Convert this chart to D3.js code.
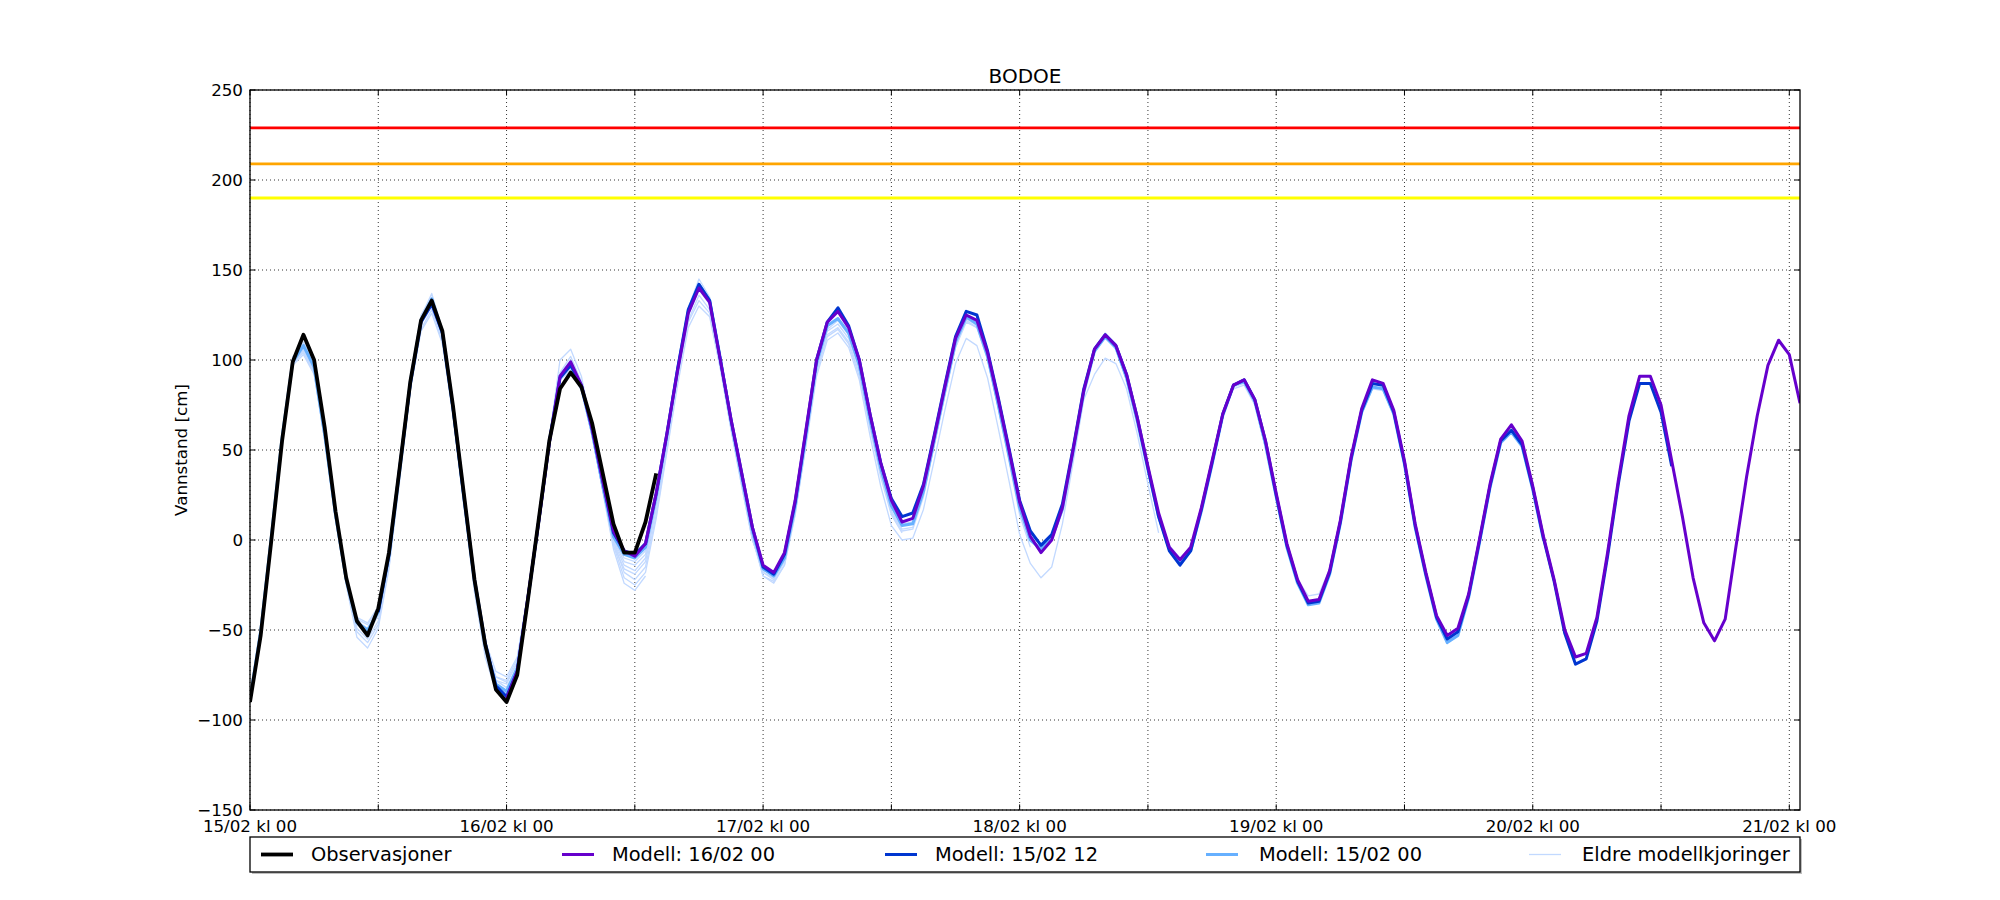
<!DOCTYPE html>
<html><head><meta charset="utf-8">
<script src="https://cdn.jsdelivr.net/npm/d3@7"></script>
<style>
body{margin:0;background:#fff}
text{font-family:"DejaVu Sans",sans-serif;fill:#000}
</style>
</head><body>
<svg id="chart" width="2000" height="900"></svg>
<script>
// ---------------- DATA ----------------
const chartTitle = "BODOE";
const yAxisLabel = "Vannstand [cm]";
const yTickValues = [-150, -100, -50, 0, 50, 100, 150, 200, 250];
const xStart = "2017-02-15T00:00Z";
const xEnd = "2017-02-21T01:00Z";
const thresholdValues = [229, 209, 190];           // red, orange, yellow

// hourly series
const obsStart = "2017-02-15T00:00Z";
const observasjoner = [-90,-53,0,55,99,114,100,62,16,-21,-45,-53,-38,-7,40,88,122,133,116,74,26,-22,-58,-83,-90,-75,-33,11,55,84,93,85,65,37,9,-7,-7,10,37];

const modell1600Start = "2017-02-16T00:00Z";
const modell1600 = [-88,-73,-32,10,54,91,
 99,86,62,33,5,-6,-9,-2,26,59,
 94,126,140,132,100,67,37,7,-14,-18,
 -7,22,61,100,121,127,118,100,70,43,
 22,10,12,30,57,85,112,125,122,104,
 78,50,21,2,-7,0,18,50,83,106,
 114,108,92,68,41,15,-4,-11,-4,18,
 44,70,86,89,78,55,26,-2,-22,-34,
 -33,-17,11,46,73,89,87,72,44,9,
 -18,-42,-53,-49,-30,0,31,56,64,55,
 30,2,-22,-50,-65,-63,-43,-7,33,69,
 91,91,75,44,13,-21,-46,-56,-44,-4,
 35,69,97,111,103,76];

const modell1512Start = "2017-02-15T12:00Z";
const modell1512 = [-40,-8,40,87,121,131,115,73,
 25,-22,-57,-81,-87,-73,-32,10,54,90,
 97,86,62,33,4,-6,-8,-2,26,59,
 95,128,142,133,100,67,37,7,-15,-19,
 -8,21,60,100,121,129,119,100,70,43,
 23,13,15,31,58,86,113,127,125,105,
 79,51,22,5,-3,3,20,51,84,106,
 114,108,92,68,40,13,-6,-14,-6,17,
 43,70,86,89,78,55,25,-3,-23,-35,
 -34,-18,10,45,72,87,86,71,43,8,
 -19,-43,-55,-51,-31,-1,30,55,61,53,
 29,1,-23,-52,-69,-66,-45,-9,31,66,
 87,87,71,41];

const modell1500Start = "2017-02-15T00:00Z";
const modell1500 = [-89,-51,2,57,99,108,96,58,14,-22,
 -46,-50,-40,-9,39,88,122,134,115,73,
 24,-23,-59,-80,-84,-71,-33,10,55,91,
 97,85,60,30,2,-8,-10,-4,24,58,
 95,127,142,133,101,66,35,5,-16,-20,
 -10,19,58,98,119,123,115,97,67,40,
 19,8,9,27,55,83,110,124,120,102,
 75,47,18,0,-5,1,17,49,82,105,
 113,107,90,66,39,13,-5,-13,-6,16,
 42,69,86,88,77,53,24,-4,-24,-36,
 -35,-19,9,44,71,85,84,70,42,7,
 -20,-44,-57,-53,-32,-2,29,54,60,52,
 28,0];

// older model runs (visible part, from 15/02 00)
const eldreStart = "2017-02-15T00:00Z";
const eldre1412 = [-88,-50,3,56,97,106,95,57,13,-21,
 -44,-47,-38,-8,38,88,124,137,117,74,
 24,-23,-58,-78,-82,-70,-33,9,53,89,
 95,84,59,29,0,-10,-12,-6,22,57,
 96,129,145,135,102,66,34,3,-18,-22,
 -12,17,56,96,116,120,112,95,65,39,
 19,9,10,27,54,82,108,122,118,101,
 74,46,17,0,-4,2,17,48,81,104,
 112,106,89,65,38,12,-5,-12,-5,16,
 41,68,85,87,76,52,23,-4,-22,-31,
 -30,-16,10,44,70,84,83,69,41,7];
const eldre1400 = [-87,-49,4,58,101,110,98,59,13,-23,
 -49,-55,-45,-13,35,85,120,131,113,71,
 22,-25,-58,-76,-79,-68,-31,11,55,90,
 96,84,58,28,0,-12,-14,-8,20,55,
 93,125,139,131,99,64,32,2,-20,-24,
 -14,15,54,94,114,118,110,93,64,37,
 16,6,7,25,53,81,107,121,118,100,
 74,47,19,2,-2,3,19,51,84,107,
 115,109,91,67,40,14,-3,-10,-4,17,
 42,68,84,86,75,51,22,-5];
const eldre1312 = [-86,-48,4,57,98,104,93,55,11,-24,
 -51,-57,-47,-15,33,83,117,128,110,69,
 20,-24,-56,-73,-76,-65,-29,12,56,92,
 100,88,62,31,-1,-14,-17,-10,18,52,
 90,122,136,128,97,62,30,0,-17,-19,
 -11,15,52,91,111,115,107,89,58,30,
 8,0,1,17,44,72,98,112,108,90,
 62,33,3,-13,-21,-15,9,43,78,92,
 101,98,84,59,31,4];
const eldre1300 = [-85,-47,5,59,102,107,95,57,12,-25,
 -54,-60,-49,-16,34,84,116,126,109,68,
 19,-29,-65,-84,-87,-74,-36,8,56,100,
 106,91,62,29,-3,-16,-19,-12,17,53,
 91,121,133,126,96,62,31,1,-18,-21,
 -12,17,56,96,117,122,114,96,65,37,
 15,5,6,24,52,80,107,123,119,101,
 73,44,14,-4];
const eldre1212 = [-86,-49,3,57,99,105,94,56,12,-22,
 -45,-49,-40,-10,37,87,122,133,114,72,
 22,-26,-61,-78,-80,-68,-31,11,55,91,
 98,86,60,30,-1,-18,-22,-15,14,50,
 90,125,140,132,100,64,32,1,-20,-23,
 -14,14,53,93,113,117,109,91,62,35,
 14,4];
const eldre1200 = [-87,-50,2,56,100,109,97,58,13,-23,
 -47,-52,-42,-11,36,86,121,130,112,71,
 21,-26,-60,-76,-78,-66,-30,11,54,89,
 94,83,58,28,-3,-21,-25,-18,12,49,
 86,118,130,124,95,61,30,0,-16,-18];
const eldre1112 = [-88,-52,1,55,97,103,92,55,12,-21,
 -43,-46,-37,-7,40,90,125,135,116,74,
 24,-24,-62,-82,-85,-72,-35,7,52,93,
 102,88,60,27,-5,-24,-28,-20];

const legendLabels = ["Observasjoner", "Modell: 16/02 00", "Modell: 15/02 12", "Modell: 15/02 00", "Eldre modellkjoringer"];

// ---------------- STYLE ----------------
const thresholdColors = ["#ff0000", "#ffa500", "#ffff00"];
const styles = {
  obs:   {color: "#000000", width: 3.8},
  m1600: {color: "#6600cc", width: 3},
  m1512: {color: "#0036d0", width: 3},
  m1500: {color: "#66b0ff", width: 3},
  old:   {color: "#c2d9ff", width: 1.3}
};

// ---------------- CHART ----------------
const W = 2000, H = 900;
const M = {left: 250, right: 1800, top: 90, bottom: 810};
const svg = d3.select("#chart");
svg.append("rect").attr("width", W).attr("height", H).attr("fill", "#fff");

const x = d3.scaleUtc().domain([new Date(xStart), new Date(xEnd)]).range([M.left, M.right]);
const y = d3.scaleLinear().domain([-150, 250]).range([M.bottom, M.top]);

svg.append("clipPath").attr("id", "clip")
  .append("rect").attr("x", M.left).attr("y", M.top)
  .attr("width", M.right - M.left).attr("height", M.bottom - M.top);

const xTicks = d3.utcHour.every(12).range(new Date(xStart), new Date(xEnd));
const fmt = d3.utcFormat("%d/%m kl %H");

// grid
const grid = svg.append("g");
grid.selectAll("line.gx").data(xTicks).join("line")
  .attr("x1", d => x(d)).attr("x2", d => x(d))
  .attr("y1", M.top).attr("y2", M.bottom)
  .attr("stroke", "#000").attr("stroke-width", 0.8).attr("stroke-dasharray", "1,3");
grid.selectAll("line.gy").data(yTickValues).join("line")
  .attr("x1", M.left).attr("x2", M.right)
  .attr("y1", d => y(d)).attr("y2", d => y(d))
  .attr("stroke", "#000").attr("stroke-width", 0.8).attr("stroke-dasharray", "1,3");

// data
const plot = svg.append("g").attr("clip-path", "url(#clip)");
const toPts = (start, vals) => {
  const t0 = new Date(start);
  return vals.map((v, i) => ({t: d3.utcHour.offset(t0, i), v}));
};
const line = d3.line().x(d => x(d.t)).y(d => y(d.v));

thresholdValues.forEach((v, i) => {
  plot.append("line").attr("x1", M.left).attr("x2", M.right)
    .attr("y1", y(v)).attr("y2", y(v))
    .attr("stroke", thresholdColors[i]).attr("stroke-width", 2.8);
});

const series = [
  {start: eldreStart, vals: eldre1112, s: styles.old},
  {start: eldreStart, vals: eldre1200, s: styles.old},
  {start: eldreStart, vals: eldre1212, s: styles.old},
  {start: eldreStart, vals: eldre1300, s: styles.old},
  {start: eldreStart, vals: eldre1312, s: styles.old},
  {start: eldreStart, vals: eldre1400, s: styles.old},
  {start: eldreStart, vals: eldre1412, s: styles.old},
  {start: modell1500Start, vals: modell1500, s: styles.m1500},
  {start: modell1512Start, vals: modell1512, s: styles.m1512},
  {start: modell1600Start, vals: modell1600, s: styles.m1600},
  {start: obsStart, vals: observasjoner, s: styles.obs}
];
series.forEach(se => {
  plot.append("path").datum(toPts(se.start, se.vals))
    .attr("d", line).attr("fill", "none")
    .attr("stroke", se.s.color).attr("stroke-width", se.s.width)
    .attr("stroke-linejoin", "round").attr("stroke-linecap", "butt");
});

// frame
svg.append("rect").attr("x", M.left).attr("y", M.top)
  .attr("width", M.right - M.left).attr("height", M.bottom - M.top)
  .attr("fill", "none").attr("stroke", "#000").attr("stroke-width", 1.3);

// ticks (inward, all sides)
const tl = 5.6;
const ticks = svg.append("g").attr("stroke", "#000").attr("stroke-width", 1);
xTicks.forEach(t => {
  ticks.append("line").attr("x1", x(t)).attr("x2", x(t)).attr("y1", M.bottom).attr("y2", M.bottom - tl);
  ticks.append("line").attr("x1", x(t)).attr("x2", x(t)).attr("y1", M.top).attr("y2", M.top + tl);
});
yTickValues.forEach(v => {
  ticks.append("line").attr("x1", M.left).attr("x2", M.left + tl).attr("y1", y(v)).attr("y2", y(v));
  ticks.append("line").attr("x1", M.right).attr("x2", M.right - tl).attr("y1", y(v)).attr("y2", y(v));
});

// tick labels
const yfmt = d3.format("d");
svg.append("g").selectAll("text").data(yTickValues).join("text")
  .attr("x", M.left - 7).attr("y", d => y(d)).attr("text-anchor", "end")
  .attr("dominant-baseline", "central").attr("font-size", 16.7)
  .text(d => yfmt(d));
svg.append("g").selectAll("text").data(xTicks.filter(t => t.getUTCHours() === 0)).join("text")
  .attr("x", d => x(d)).attr("y", M.bottom + 9).attr("dy", "0.76em")
  .attr("text-anchor", "middle").attr("font-size", 16.7)
  .text(d => fmt(d));

// title & y label
svg.append("text").attr("x", (M.left + M.right) / 2).attr("y", 83)
  .attr("text-anchor", "middle").attr("font-size", 20).text(chartTitle);
svg.append("text").attr("transform", `translate(181,${(M.top + M.bottom) / 2}) rotate(-90)`)
  .attr("text-anchor", "middle").attr("dominant-baseline", "central")
  .attr("font-size", 16.7).text(yAxisLabel);

// legend
const lg = svg.append("g");
const lgTop = 837, lgH = 35;
lg.append("rect").attr("x", M.left + 2).attr("y", lgTop + 2).attr("width", M.right - M.left).attr("height", lgH)
  .attr("fill", "#bfbfbf");
lg.append("rect").attr("x", M.left).attr("y", lgTop).attr("width", M.right - M.left).attr("height", lgH)
  .attr("fill", "#fff").attr("stroke", "#000").attr("stroke-width", 1.3);
const lgStyles = [styles.obs, styles.m1600, styles.m1512, styles.m1500, styles.old];
const colX = [261, 562, 885, 1206, 1529];
legendLabels.forEach((lab, i) => {
  const cy = lgTop + lgH / 2;
  lg.append("line").attr("x1", colX[i]).attr("x2", colX[i] + 32).attr("y1", cy).attr("y2", cy)
    .attr("stroke", lgStyles[i].color).attr("stroke-width", lgStyles[i].width);
  lg.append("text").attr("x", colX[i] + 50 + (i >= 3 ? 3 : 0)).attr("y", cy)
    .attr("dominant-baseline", "central").attr("font-size", 19.4).text(lab);
});
</script>
</body></html>
